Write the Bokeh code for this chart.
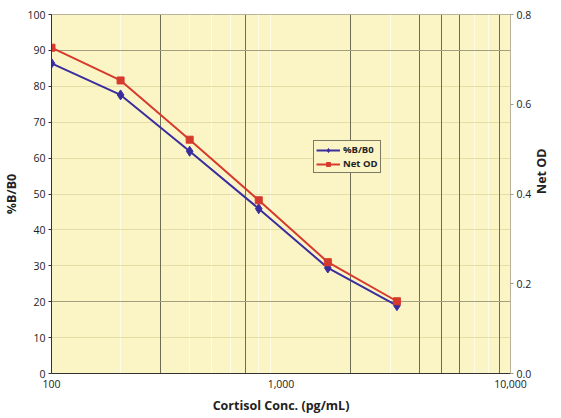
import math
from bokeh.plotting import figure
from bokeh.models import (Range1d, LinearAxis, FixedTicker, Grid, Legend, LegendItem,
                          NumeralTickFormatter)
from bokeh.embed import file_html
from bokeh.resources import INLINE

# Data
conc = [100, 200, 400, 800, 1600, 3200]
pct_b_b0 = [86.4, 77.6, 61.9, 45.9, 29.4, 18.9]
net_od = [0.726, 0.653, 0.521, 0.386, 0.248, 0.161]

x_ticks = [100, 1000, 10000]
y_ticks = [0, 10, 20, 30, 40, 50, 60, 70, 80, 90, 100]
od_ticks = [0.0, 0.2, 0.4, 0.6, 0.8]
minor_grid = [200, 300, 400, 500, 600, 700, 800, 900,
              2000, 3000, 4000, 5000, 6000, 7000, 8000, 9000]
dark_grid = [300, 700, 2000, 4000, 5000, 6000, 9000]
dark_hgrid = [20, 90]

FONT = "Open Sans"
BG = "#FBF5C6"

p = figure(width=561, height=418, x_axis_type="log",
           x_range=Range1d(100, 10000), y_range=Range1d(0, 100),
           output_backend="svg", toolbar_location=None,
           min_border_left=48, min_border_right=48, min_border_top=14,
           min_border_bottom=45)
p.background_fill_color = BG
p.border_fill_color = "white"
p.outline_line_color = "#B8B39A"
p.outline_line_width = 1

p.extra_y_ranges = {"od": Range1d(0, 0.8)}

# grids
p.xgrid.ticker = FixedTicker(ticks=minor_grid)
p.xgrid.grid_line_color = "#FFFCE6"
p.xgrid.grid_line_width = 1
p.ygrid.ticker = FixedTicker(ticks=y_ticks)
p.ygrid.grid_line_color = "#E3DDA8"
p.ygrid.grid_line_width = 1
p.add_layout(Grid(dimension=0, ticker=FixedTicker(ticks=dark_grid),
                  grid_line_color="#6E6C52", grid_line_width=1))
p.add_layout(Grid(dimension=1, ticker=FixedTicker(ticks=dark_hgrid),
                  grid_line_color="#A39F7C", grid_line_width=1))

# axes
xa = p.xaxis[0]
xa.ticker = FixedTicker(ticks=x_ticks)
xa.formatter = NumeralTickFormatter(format="0,0")
xa.axis_label = "Cortisol Conc. (pg/mL)"
xa.major_tick_in = 0
xa.major_tick_out = 0
xa.minor_tick_line_color = None
xa.major_label_standoff = 6
xa.axis_label_standoff = 6

ya = p.yaxis[0]
ya.ticker = FixedTicker(ticks=y_ticks)
ya.axis_label = "%B/B0"
ya.major_tick_in = 0
ya.major_tick_out = 3
ya.minor_tick_line_color = None
ya.major_label_standoff = 3
ya.axis_label_standoff = 4

ra = LinearAxis(y_range_name="od", ticker=FixedTicker(ticks=od_ticks),
                formatter=NumeralTickFormatter(format="0.0"),
                axis_label="Net OD")
ra.major_tick_in = 0
ra.major_tick_out = 3
ra.minor_tick_line_color = None
ra.major_label_standoff = 3
ra.axis_label_standoff = 7
ra.axis_label_orientation = math.pi / 2
ra.axis_line_color = "#B8B39A"
ra.major_tick_line_color = "#999999"
p.add_layout(ra, "right")

for ax in (xa, ya, ra):
    ax.major_label_text_font = FONT
    ax.major_label_text_font_size = "10.5px"
    ax.major_label_text_color = "#222222"
    ax.axis_label_text_font = FONT
    ax.axis_label_text_font_size = "12.5px"
    ax.axis_label_text_font_style = "bold"
    ax.axis_label_text_color = "#222222"
for ax in (xa, ya):
    ax.axis_line_color = "#333333"
    ax.major_tick_line_color = "#333333"

# series
bl = p.line(conc, pct_b_b0, line_color="#3A2E9E", line_width=2)
bs = p.scatter(conc, pct_b_b0, marker="diamond", size=10,
               fill_color="#3A2E9E", line_color="#3A2E9E")
rl = p.line(conc, net_od, y_range_name="od", line_color="#D63A2C", line_width=2)
rs = p.scatter(conc, net_od, y_range_name="od", marker="square", size=7,
               fill_color="#D63A2C", line_color="#D63A2C")

legend = Legend(items=[LegendItem(label="%B/B0", renderers=[bl, bs]),
                       LegendItem(label="Net OD", renderers=[rl, rs])],
                location=(262, 200))
legend.border_line_color = "black"
legend.border_line_width = 1
legend.background_fill_color = BG
legend.background_fill_alpha = 1
legend.label_text_font = FONT
legend.label_text_font_size = "9.5px"
legend.label_text_font_style = "bold"
legend.label_text_color = "#222222"
legend.glyph_width = 24
legend.glyph_height = 10
legend.label_height = 10
legend.label_standoff = 3
legend.spacing = 1
legend.padding = 2
legend.margin = 0
p.add_layout(legend, "center")

open("out.html", "w").write(file_html(p, INLINE))
